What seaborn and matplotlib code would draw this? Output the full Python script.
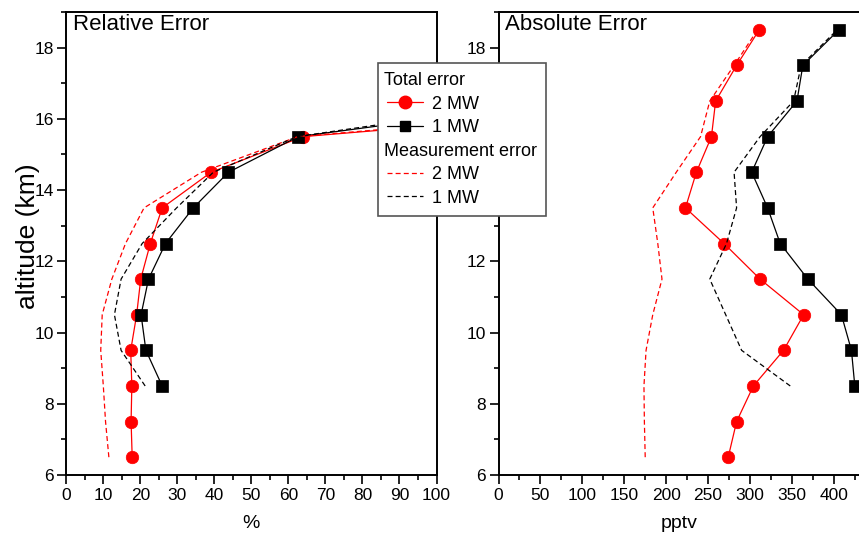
import numpy as np
import pandas as pd
import matplotlib
matplotlib.use("Agg")
import matplotlib.pyplot as plt
from matplotlib.lines import Line2D
from matplotlib.ticker import MultipleLocator
import seaborn as sns

# ---------------- data ----------------
alt_2mw = [6.5, 7.5, 8.5, 9.5, 10.5, 11.5, 12.5, 13.5, 14.5, 15.5, 16.5, 17.5, 18.5]
alt_1mw = [8.5, 9.5, 10.5, 11.5, 12.5, 13.5, 14.5, 15.5, 16.5, 17.5, 18.5]

# relative error (%), up to 16.5 km (higher values are off scale)
rel_total_2mw = [17.8, 17.5, 17.7, 17.4, 19.0, 20.1, 22.7, 25.9, 39.1, 63.9, 180]
rel_total_1mw = [25.9, 21.5, 20.2, 22.2, 26.8, 34.3, 43.8, 62.6, 135]
rel_meas_2mw = [11.5, 10.6, 10.0, 9.3, 9.7, 12.3, 16.0, 21.0, 36.5, 62.5, 175]
rel_meas_1mw = [21.3, 14.8, 13.0, 14.8, 20.5, 29.8, 39.7, 62.3, 128]

# absolute error (pptv)
abs_total_2mw = [274, 284, 304, 340, 364, 312, 269, 223, 236, 254, 259, 284, 311]
abs_total_1mw = [425, 421, 409, 369, 336, 321, 302, 321, 356, 363, 406]
abs_meas_2mw = [175, 174, 173.5, 176, 184, 195, 190, 184, 212, 241, 252, 281, 309]
abs_meas_1mw = [348, 290, 271, 252, 272, 284, 281, 312, 352, 361, 404]

panel_titles = ["Relative Error", "Absolute Error"]
x_labels = ["%", "pptv"]
y_label = "altitude (km)"
legend_labels = ["Total error", "2 MW", "1 MW", "Measurement error", "2 MW", "1 MW"]

# ---------------- style ----------------
sns.set_style("ticks")
plt.rcParams["font.family"] = ["Liberation Sans", "DejaVu Sans"]
for k in ["text.color", "axes.labelcolor", "xtick.color", "ytick.color", "axes.edgecolor"]:
    plt.rcParams[k] = "black"
plt.rcParams["axes.linewidth"] = 1.4
for k in ["xtick.major.width", "ytick.major.width", "xtick.minor.width", "ytick.minor.width"]:
    plt.rcParams[k] = 1.2

W, H = 859, 544
fig = plt.figure(figsize=(W / 100, H / 100), dpi=100)

def frac_box(l, r, t, b):
    return [l / W, 1 - b / H, (r - l) / W, (b - t) / H]

ax1 = fig.add_axes(frac_box(66.3, 436.5, 12, 475))
ax2 = fig.add_axes(frac_box(498.5, 859, 12, 475))

RED = "#ff0000"
BLK = "#000000"
lw = 0.9
dash = (4, 2.5)

def draw(ax, alt2, t2, alt1, t1, m2, m1):
    sns.lineplot(x=t2, y=alt2[:len(t2)], ax=ax, sort=False, estimator=None, color=RED,
                 lw=lw, marker="o", markersize=9, markeredgecolor=RED, markeredgewidth=0.5)
    sns.lineplot(x=t1, y=alt1[:len(t1)], ax=ax, sort=False, estimator=None, color=BLK,
                 lw=lw, marker="s", markersize=8, markeredgecolor=BLK, markeredgewidth=0.5)
    sns.lineplot(x=m2, y=alt2[:len(m2)], ax=ax, sort=False, estimator=None, color=RED, lw=lw)
    sns.lineplot(x=m1, y=alt1[:len(m1)], ax=ax, sort=False, estimator=None, color=BLK, lw=lw)
    ax.lines[-2].set_dashes(dash)
    ax.lines[-1].set_dashes(dash)

draw(ax1, alt_2mw, rel_total_2mw, alt_1mw, rel_total_1mw, rel_meas_2mw, rel_meas_1mw)
draw(ax2, alt_2mw, abs_total_2mw, alt_1mw, abs_total_1mw, abs_meas_2mw, abs_meas_1mw)

ax1.set_xlim(0, 100)
ax2.set_xlim(0, 430)
for ax, title, xl in zip([ax1, ax2], panel_titles, x_labels):
    ax.set_ylim(6, 19)
    ax.yaxis.set_major_locator(MultipleLocator(2))
    ax.yaxis.set_minor_locator(MultipleLocator(1))
    ax.tick_params(which="major", direction="out", length=6.5, labelsize=12.5, pad=2.5)
    ax.tick_params(which="minor", direction="out", length=3.8)
    ax.set_xlabel(xl, fontsize=14, labelpad=9)
    ax.set_ylabel("")
    ax.text(0.018, 0.995, title, transform=ax.transAxes, ha="left", va="top", fontsize=16)
    for s in ax.spines.values():
        s.set_visible(True)

ax1.xaxis.set_major_locator(MultipleLocator(10))
ax1.xaxis.set_minor_locator(MultipleLocator(5))
ax2.xaxis.set_major_locator(MultipleLocator(50))
ax2.xaxis.set_minor_locator(MultipleLocator(25))
ax2.spines["right"].set_visible(False)
ax1.set_ylabel(y_label, fontsize=19)
ax1.yaxis.set_label_coords((40 - 66.3) / 370.2, 0.515)

# ---------------- legend ----------------
blank = Line2D([], [], linestyle="none")
handles = [
    blank,
    Line2D([], [], color=RED, lw=lw, marker="o", markersize=9),
    Line2D([], [], color=BLK, lw=lw, marker="s", markersize=7),
    blank,
    Line2D([], [], color=RED, lw=lw, dashes=dash),
    Line2D([], [], color=BLK, lw=lw, dashes=dash),
]
leg = fig.legend(handles, legend_labels, loc="upper left",
                 bbox_to_anchor=(378 / W, 1 - 63 / H), bbox_transform=fig.transFigure,
                 borderaxespad=0, frameon=True, fancybox=False, framealpha=1,
                 edgecolor="#555555", fontsize=13, handlelength=2.0, handletextpad=0.5,
                 labelspacing=0.36, borderpad=0.5)
leg.get_frame().set_linewidth(1.2)

# left-align header rows
fig.canvas.draw()
try:
    col = leg._legend_handle_box.get_children()[0]
    rows = col.get_children()
    for i in (0, 3):
        hbox = rows[i].get_children()[0]
        hbox.width = -leg.handletextpad * 13 * 100 / 72
except Exception:
    pass

fig.savefig("out.png", dpi=100)
